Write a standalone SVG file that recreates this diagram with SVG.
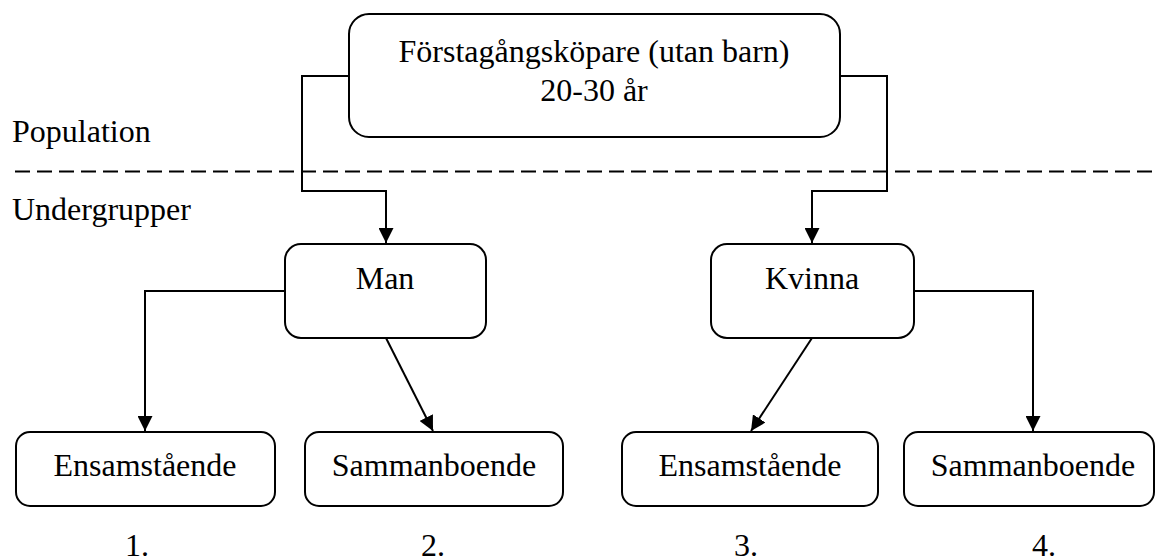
<svg xmlns="http://www.w3.org/2000/svg" width="1155" height="559" viewBox="0 0 1155 559">
<style>
.box{fill:#fff;stroke:#000;stroke-width:2}
.t{font-family:"Liberation Serif","Times New Roman",serif;font-size:32px;fill:#000}
.m{text-anchor:middle}
.c{fill:none;stroke:#000;stroke-width:2}
</style>
<defs>
<marker id="ah" markerUnits="userSpaceOnUse" markerWidth="15" markerHeight="15" refX="15" refY="7.5" orient="auto">
<path d="M0,0 L15,7.5 L0,15 z" fill="#000"/>
</marker>
</defs>
<g id="labels">
<text class="t" x="12" y="142">Population</text>
<text class="t" x="12" y="220">Undergrupper</text>
<line x1="15" y1="171.5" x2="1155" y2="171.5" stroke="#000" stroke-width="2" stroke-dasharray="15 7"/>
</g>
<g id="connectors">
<path class="c" d="M349,76 H302 V191 H386 V243" marker-end="url(#ah)"/>
<path class="c" d="M840,76 H887 V191 H812 V243" marker-end="url(#ah)"/>
<path class="c" d="M285,291 H145 V431" marker-end="url(#ah)"/>
<path class="c" d="M386,338 L433,431" marker-end="url(#ah)"/>
<path class="c" d="M812,338 L751,431" marker-end="url(#ah)"/>
<path class="c" d="M914,291 H1033 V431" marker-end="url(#ah)"/>
</g>
<g id="top">
<rect class="box" x="349" y="14" width="491" height="123" rx="20"/>
<text class="t m" x="594" y="62">Förstagångsköpare (utan barn)</text>
<text class="t m" x="594" y="101">20-30 år</text>
</g>
<g id="man">
<rect class="box" x="285" y="244" width="201" height="94" rx="16"/>
<text class="t m" x="385" y="289">Man</text>
</g>
<g id="kvinna">
<rect class="box" x="711" y="244" width="203" height="94" rx="16"/>
<text class="t m" x="812" y="289">Kvinna</text>
</g>
<g id="n1">
<rect class="box" x="16" y="432" width="259" height="74" rx="14"/>
<text class="t m" x="145" y="476">Ensamstående</text>
<text class="t" x="125" y="556">1.</text>
</g>
<g id="n2">
<rect class="box" x="305" y="432" width="258" height="74" rx="14"/>
<text class="t m" x="434" y="476">Sammanboende</text>
<text class="t" x="421" y="556">2.</text>
</g>
<g id="n3">
<rect class="box" x="622" y="432" width="256" height="74" rx="14"/>
<text class="t m" x="750" y="476">Ensamstående</text>
<text class="t" x="734" y="556">3.</text>
</g>
<g id="n4">
<rect class="box" x="904" y="432" width="250" height="74" rx="14"/>
<text class="t m" x="1033" y="476">Sammanboende</text>
<text class="t" x="1032" y="556">4.</text>
</g>
</svg>
